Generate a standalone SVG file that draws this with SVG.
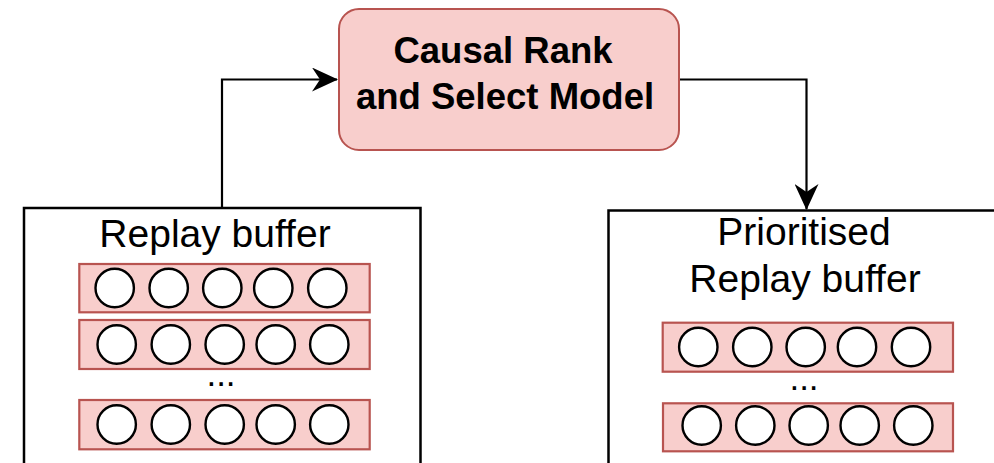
<svg xmlns="http://www.w3.org/2000/svg" width="994" height="463" viewBox="0 0 994 463">
<defs>
<style>
.model{fill:#f8cecc;stroke:#b85450;stroke-width:2}
.buf{fill:#ffffff;stroke:#000000;stroke-width:2.5}
.row{fill:#f8cecc;stroke:#b85450;stroke-width:2.2}
.cell{fill:#ffffff;stroke:#000000;stroke-width:2.4}
.edge{fill:none;stroke:#000000;stroke-width:2.2}
.t{font-family:"Liberation Sans",Arial,Helvetica,sans-serif;fill:#000;text-anchor:middle}
.tb{font-size:36.5px;font-weight:bold}
.tn{font-size:39px}
.dots{font-size:35px}
</style>
<marker id="arr" viewBox="0 0 26 24" refX="25" refY="12" markerWidth="26" markerHeight="24" markerUnits="userSpaceOnUse" orient="auto">
<path d="M0,0 L26,12 L0,24 L8,12 Z" fill="#000"/>
</marker>
</defs>
<rect width="994" height="463" fill="#ffffff"/>
<g id="connectors">
<path class="edge" d="M222,207 L222,79.5 L337,79.5" marker-end="url(#arr)"/>
<path class="edge" d="M680,79.5 L806.5,79.5 L806.5,209" marker-end="url(#arr)"/>
</g>
<g id="model">
<rect class="model" x="339" y="9" width="340" height="141" rx="20" ry="20"/>
<text class="t tb" x="503" y="63">Causal Rank</text>
<text class="t tb" x="505" y="109">and Select Model</text>
</g>
<g id="replay-buffer">
<rect class="buf" x="24" y="208" width="396.5" height="300"/>
<text class="t tn" x="215" y="247">Replay buffer</text>
<rect class="row" x="79.3" y="264" width="290.4" height="48.3"/>
<circle class="cell" cx="114.7" cy="288" r="19.2"/>
<circle class="cell" cx="168.7" cy="288" r="19.2"/>
<circle class="cell" cx="222.3" cy="288" r="19.2"/>
<circle class="cell" cx="273.3" cy="288" r="19.2"/>
<circle class="cell" cx="327.3" cy="288" r="19.2"/>
<rect class="row" x="79.3" y="320" width="290.4" height="49"/>
<circle class="cell" cx="116.7" cy="344.5" r="19.2"/>
<circle class="cell" cx="170.8" cy="344.5" r="19.2"/>
<circle class="cell" cx="224.7" cy="344.5" r="19.2"/>
<circle class="cell" cx="275.7" cy="344.5" r="19.2"/>
<circle class="cell" cx="329.3" cy="344.5" r="19.2"/>
<text class="t dots" x="221" y="386">...</text>
<rect class="row" x="79.3" y="400" width="290.4" height="49.3"/>
<circle class="cell" cx="116.7" cy="424.5" r="19.2"/>
<circle class="cell" cx="170.8" cy="424.5" r="19.2"/>
<circle class="cell" cx="224.7" cy="424.5" r="19.2"/>
<circle class="cell" cx="275.7" cy="424.5" r="19.2"/>
<circle class="cell" cx="329.3" cy="424.5" r="19.2"/>
</g>
<g id="prioritised-buffer">
<rect class="buf" x="608.5" y="210.5" width="400" height="300"/>
<text class="t tn" x="804" y="245">Prioritised</text>
<text class="t tn" x="805" y="292">Replay buffer</text>
<rect class="row" x="662.7" y="322.7" width="290.3" height="49"/>
<circle class="cell" cx="698.3" cy="347" r="19.2"/>
<circle class="cell" cx="752.3" cy="347" r="19.2"/>
<circle class="cell" cx="805.7" cy="347" r="19.2"/>
<circle class="cell" cx="857" cy="347" r="19.2"/>
<circle class="cell" cx="911" cy="347" r="19.2"/>
<text class="t dots" x="804" y="390">...</text>
<rect class="row" x="663" y="403.3" width="290" height="48"/>
<circle class="cell" cx="701.7" cy="425.5" r="19.2"/>
<circle class="cell" cx="755.3" cy="425.5" r="19.2"/>
<circle class="cell" cx="808.7" cy="425.5" r="19.2"/>
<circle class="cell" cx="859.7" cy="425.5" r="19.2"/>
<circle class="cell" cx="913.3" cy="425.5" r="19.2"/>
</g>
</svg>
